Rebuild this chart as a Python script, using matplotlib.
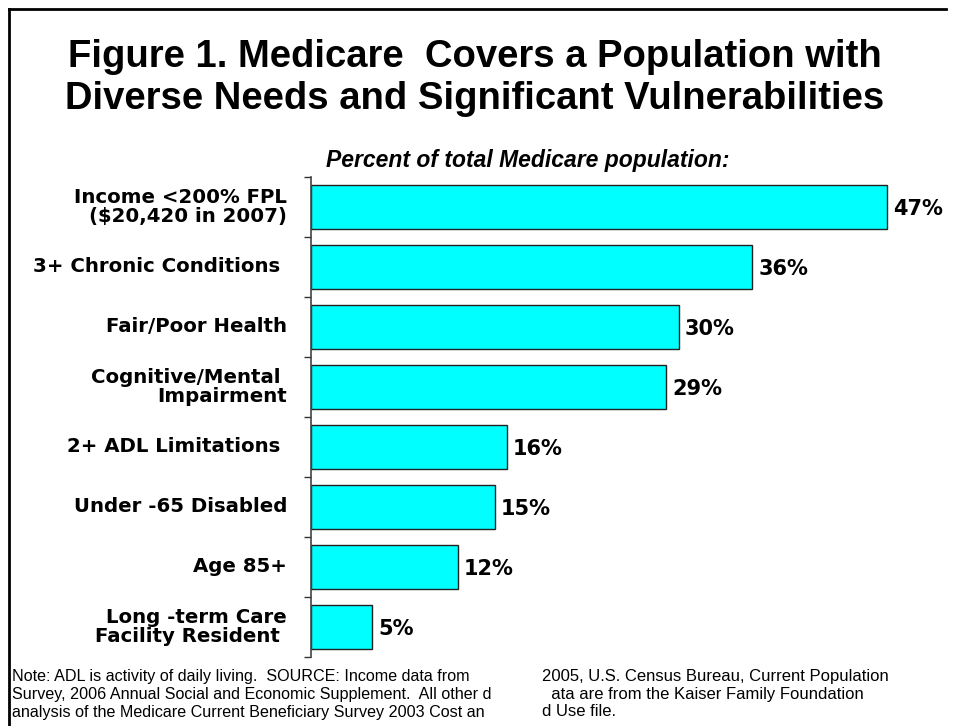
import matplotlib
matplotlib.use("Agg")
import matplotlib.pyplot as plt
from matplotlib.lines import Line2D
from matplotlib.ticker import FixedLocator, NullLocator

#chart values, top to bottom as in the slide
categories = [
    "Income <200% FPL\n($20,420 in 2007)",
    "3+ Chronic Conditions ",
    "Fair/Poor Health",
    "Cognitive/Mental \nImpairment",
    "2+ ADL Limitations ",
    "Under -65 Disabled",
    "Age 85+",
    "Long -term Care\nFacility Resident ",
]
values = [47, 36, 30, 29, 16, 15, 12, 5]
value_labels = ["47%", "36%", "30%", "29%", "16%", "15%", "12%", "5%"]

title_lines = ["Figure 1. Medicare  Covers a Population with",
               "Diverse Needs and Significant Vulnerabilities"]
subtitle = "Percent of total Medicare population:"
note_left = ["Note: ADL is activity of daily living.  SOURCE: Income data from",
             "Survey, 2006 Annual Social and Economic Supplement.  All other d",
             "analysis of the Medicare Current Beneficiary Survey 2003 Cost an"]
note_right = ["2005, U.S. Census Bureau, Current Population",
              "  ata are from the Kaiser Family Foundation",
              "d Use file."]

W, H = 955, 726
fig = plt.figure(figsize=(W / 100, H / 100), dpi=100)

#slide frame: left and top edges only
fig.add_artist(Line2D([9 / W, 9 / W], [0, 1 - 9 / H], color="black", lw=2))
fig.add_artist(Line2D([9 / W, 946 / W], [1 - 9 / H, 1 - 9 / H], color="black", lw=2))

for i, line in enumerate(title_lines):
    fig.text(475 / W, 1 - (57 + 42 * i) / H, line, ha="center", va="center",
             fontsize=27.5, fontweight="bold", family="Liberation Sans")
fig.text(528 / W, 1 - 160 / H, subtitle, ha="center", va="center",
         fontsize=16.5, fontweight="bold", style="italic", family="Liberation Sans")

ax = fig.add_axes([311 / W, 1 - 657 / H, 636 / W, 480 / H])
y = list(range(len(values)))
ax.barh(y, values, height=0.72, color="#00FFFF", edgecolor="#222222", linewidth=1)
ax.set_xlim(0, 51.9)
ax.set_ylim(len(values) - 0.5, -0.5)

for yi, v, lab in zip(y, values, value_labels):
    ax.annotate(lab, (v, yi), xytext=(6, -2), textcoords="offset pixels",
                ha="left", va="center", fontsize=15, fontweight="bold", family="DejaVu Sans")

for yi, cat in zip(y, categories):
    ax.annotate(cat, (0, yi), xytext=(-24, 0), textcoords="offset pixels",
                ha="right", va="center", multialignment="right",
                fontsize=14.2, fontweight="bold", family="DejaVu Sans", linespacing=0.95)

ax.xaxis.set_visible(False)
ax.yaxis.set_major_locator(NullLocator())
ax.yaxis.set_minor_locator(FixedLocator([i - 0.5 for i in range(len(values) + 1)]))
ax.tick_params(axis="y", which="minor", length=5, width=1, color="#333333")
for s in ["top", "right", "bottom"]:
    ax.spines[s].set_visible(False)
ax.spines["left"].set_color("#444444")
ax.spines["left"].set_linewidth(1.2)

for i, line in enumerate(note_left):
    fig.text(12 / W, 1 - (676 + 18 * i) / H, line, ha="left", va="center",
             fontsize=11.6, family="Liberation Sans")
for i, line in enumerate(note_right):
    fig.text(542 / W, 1 - (676 + 18 * i) / H, line, ha="left", va="center",
             fontsize=12, family="Liberation Sans")

fig.savefig("out.png", dpi=100)
